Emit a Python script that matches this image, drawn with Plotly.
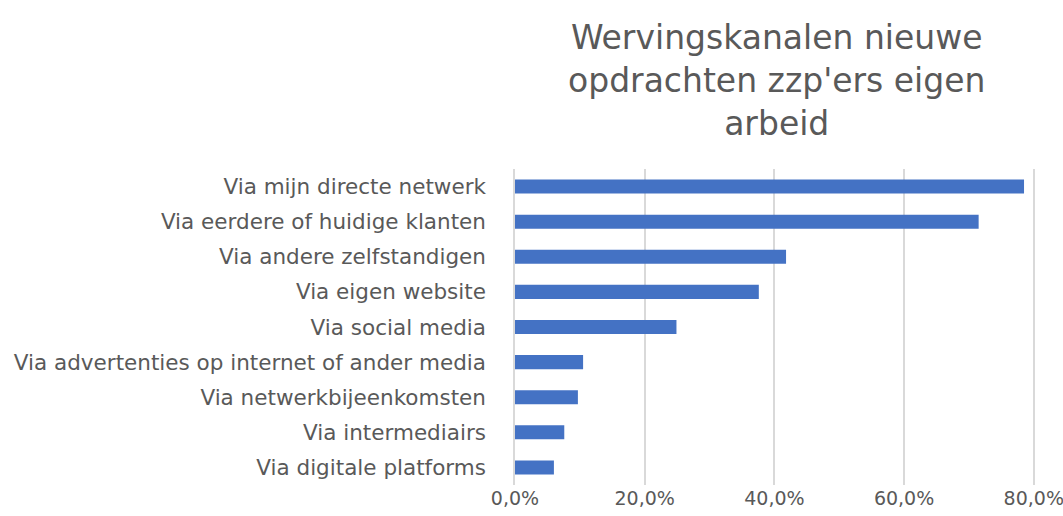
import plotly.graph_objects as go

categories = [
    "Via mijn directe netwerk",
    "Via eerdere of huidige klanten",
    "Via andere zelfstandigen",
    "Via eigen website",
    "Via social media",
    "Via advertenties op internet of ander media",
    "Via netwerkbijeenkomsten",
    "Via intermediairs",
    "Via digitale platforms",
]
values = [0.785, 0.715, 0.418, 0.376, 0.249, 0.105, 0.097, 0.076, 0.060]
x_ticks = [0, 0.2, 0.4, 0.6, 0.8]
title_text = "Wervingskanalen nieuwe<br>opdrachten zzp'ers eigen<br>arbeid"

FONT = "DejaVu Sans, sans-serif"
GRAY = "#595959"

fig = go.Figure(go.Bar(
    x=values, y=categories, orientation="h",
    marker=dict(color="#4472C4", line=dict(width=0)),
))

# plot area: y 169..485 (height 316); centre of title block ~ y=80
fig.add_annotation(
    text=title_text, showarrow=False,
    x=0.5, xref="paper", xanchor="center",
    y=(485 - 80) / 316, yref="paper", yanchor="middle",
    font=dict(family=FONT, size=33, color=GRAY),
)

fig.update_layout(
    width=1063, height=516,
    margin=dict(l=515, r=26, t=169, b=31),
    paper_bgcolor="white", plot_bgcolor="white",
    separators=",.",
    bargap=0.6,
    showlegend=False,
    font=dict(family=FONT, color=GRAY),
    xaxis=dict(
        range=[0, 0.805], tickvals=x_ticks, tickformat=".1%",
        showgrid=True, gridcolor="#d9d9d9", gridwidth=1.5,
        zeroline=False, showline=False, ticks="",
        tickfont=dict(family=FONT, size=19, color=GRAY),
        ticklabeloverflow="allow",
        automargin=False, fixedrange=True,
    ),
    yaxis=dict(
        autorange="reversed", showgrid=False, zeroline=False,
        showline=True, linecolor="#d9d9d9", linewidth=1.5,
        ticks="", ticklabelstandoff=23,
        tickfont=dict(family=FONT, size=21.5, color=GRAY),
        automargin=False, fixedrange=True,
    ),
)

fig.write_html(
    "out.html",
    config={"displayModeBar": False},
    post_script="document.body.style.margin='0';document.body.style.overflow='hidden';",
)
